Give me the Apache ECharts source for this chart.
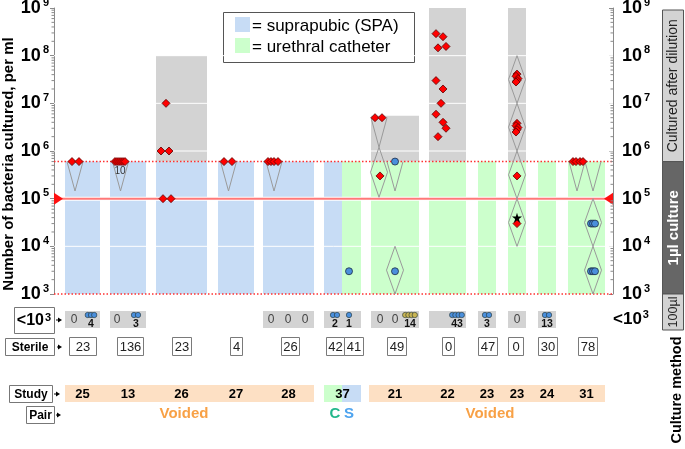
<!DOCTYPE html>
<html>
<head>
<meta charset="utf-8">
<script src="https://cdn.jsdelivr.net/npm/echarts@6/dist/echarts.min.js"></script>
<style>
html,body{margin:0;padding:0;background:#fff;}
#chart{width:685px;height:449px;}
</style>
</head>
<body>
<div id="chart"></div>
<script>
// ================= DATA =================
const studyLabels    = ['25','13','26','27','28','37','21','22','23','23','24','31'];
const sampleType     = ['SPA','SPA','SPA','SPA','SPA','SPA|UC','UC','UC','UC','UC','UC','UC'];
const dilutionTop    = [null,null,1e8,null,null,null,5.5e6,1e9,null,1e9,null,null];
const sterileCounts  = [[23],[136],[23],[4],[26],[42,41],[49],[0],[47],[0],[30],[78]];
const below1e3Counts = [[0,4],[0,3],[],[],[0,0,0],[2,1],[0,0,14],[43],[3],[0],[13],[]];
const studyGroup     = [0,0,0,0,0,1,2,2,2,2,2,2];
const pairLabels     = ['Voided','C','S','Voided'];
const legendLabels   = ['= suprapubic (SPA)','= urethral catheter'];
const cultureMethods = ['Cultured after dilution','1\u00b5l culture','100\u00b5l'];
const upperLimit = 6e5, lowerLimit = 1e3, threshold = 1e5, axisMax = 1e9;
const cluster13Count = 10;

const redValues = [6e5,6e5, 6e5,6e5,6e5,6e5,6e5,6e5, 1e7,1e6,1e6,1e5,1e5, 6e5,6e5, 6e5,6e5,6e5,6e5,
  5e6,5e6,3e5, 2.9e8,2.5e8,1.46e8,1.56e8,3e7,2e7,1e7,5.9e6,4e6,3e6,2e6,
  4.1e7,3.7e7,3.3e7,3.0e7,2.8e7, 3.8e6,3.4e6,3.1e6,2.8e6,2.5e6, 3e5,3e4, 6e5,6e5,6e5,6e5];
const blueValues = [3e3, 6e5,3e3, 3e4,3e4,3e4, 3e3,3e3,3e3];
const starValues = [4e4];
const vRanges   = [[6e5,1.45e5],[6e5,1.45e5],[6e5,1.45e5],[6e5,1.45e5],[5e6,1.2e6],[6e5,1.45e5],[6e5,1.45e5],[6e5,1.45e5]];
const diaRanges = [[1.2e6,1.07e5],[1e4,1e3],[1e8,1e7],[1e7,1e6],[1e6,1e5],[1e5,1e4],[1e5,1e4],[1e4,1e3]];

// ================= LAYOUT (x in axis units) =================
const colRange = [[11,46],[56,92],[102,153],[164,200],[209,260],[270,307],[317,365],[375,412],[424,442],[454,472],[484,502],[514,551]];
const colSplit = 288;
const redPos  = [18,25, 61,63,65,67,69,71, 112,107,115,109,117, 170,178, 214,217,220,224,
  321,328,326, 382,389,384,392,382,389,387,382,389,392,384,
  463,462,464,463,462, 463,462,464,463,462, 463,463, 519,522,526,529];
const bluePos = [295, 341,341, 537,539,541, 537,539,541];
const starPos = [463];
const vPos    = [21,66.5,174.5,220,325,341,523,539];
const diaPos  = [325,341,463,463,463,463,539,539];
const belowPos  = [[20,37],[63,82],[],[],[217,234,251],[281,295],[326,341,356],[403],[433],[463],[493],[]];
const belowDots = [[0,3],[0,2],[],[],[0,0,0],[2,1],[0,0,4],[4],[2],[0],[2],[]];
const belowOlive= [[0,0],[0,0],[],[],[0,0,0],[0,0],[0,0,1],[0],[0],[0],[0],[]];
const sterileBoxX = [[[15,42]],[[63,89]],[[118,137]],[[176,188]],[[227,245]],[[272,290],[290,309]],[[333,352]],[[388,400]],[[424,443]],[[454,469]],[[484,503]],[[524,543]]];
const pairPos = [130,281,295,436];

// ================= STYLE =================
const FONT = '"Liberation Sans", Arial, Helvetica, sans-serif';
const C_SPA = '#c7dcf5', C_UC = '#ccffcc', C_GRAY = '#d3d3d3', C_BAND = '#fde0c4';
const C_OUT = '#9a9a9a';
const pairColors = ['#f8a146','#22b78b','#4da3ef','#f8a146'];

function T(s, x, y, font, fill, align, valign, extra){
  return Object.assign({type:'text', style:{text:s, x:x, y:y, font:font+' '+FONT, fill:fill||'#000',
    align:align||'center', verticalAlign:valign||'middle'}}, extra||{});
}
function RT(s, x, y, font, fill){ // rotated text (bottom-to-top)
  return {type:'text', x:x, y:y, rotation:Math.PI/2, style:{text:s, x:0, y:0, font:font+' '+FONT, fill:fill||'#000', align:'center', verticalAlign:'middle'}};
}
function R(x,y,w,h,fill,stroke,lw){
  return {type:'rect', shape:{x:x,y:y,width:w,height:h}, style:{fill:fill||'none', stroke:stroke||null, lineWidth:lw||1}};
}
function sup(base, e, fs, fss){
  return {text:'{b|'+base+'}{s|'+e+'}', rich:{
    b:{font:'bold '+fs+'px '+FONT, fill:'#000', lineHeight:fs+2},
    s:{font:'bold '+fss+'px '+FONT, fill:'#000', verticalAlign:'top', lineHeight:fss+1, padding:[0,0,0,1]}}};
}
function arrow(x1,x2,y){
  return [{type:'line', shape:{x1:x1,y1:y,x2:x2-3,y2:y}, style:{stroke:'#000',lineWidth:1}},
          {type:'polygon', shape:{points:[[x2-4,y-2.5],[x2-4,y+2.5],[x2,y]]}, style:{fill:'#000'}}];
}

const chart = echarts.init(document.getElementById('chart'));

const axisRich = {
  b:{fontSize:18,fontWeight:'bold',fontFamily:FONT,color:'#000',lineHeight:22},
  s:{fontSize:11,fontWeight:'bold',fontFamily:FONT,color:'#000',verticalAlign:'top',lineHeight:14,padding:[0,0,0,2]}
};
function expFmt(v){ return '{b|10}{s|'+Math.round(Math.log10(v))+'}'; }
function yAx(pos){
  return {type:'log', logBase:10, min:lowerLimit, max:axisMax, position:pos,
    axisLine:{show:true, lineStyle:{color:'#8a8a8a', width:1}},
    axisTick:{show:true, length:4, inside:pos==='right', lineStyle:{color:'#8a8a8a'}},
    splitLine:{show:false}, minorTick:{show:false},
    axisLabel:{formatter:expFmt, rich:axisRich, margin: pos==='left'?5:9}};
}

// ---- column backgrounds ----
const barsSeries = {
  type:'custom', z:1, silent:true, clip:false,
  data: studyLabels.map((s,i)=>[(colRange[i][0]+colRange[i][1])/2, lowerLimit, i]),
  encode:{x:0,y:1},
  renderItem(params, api){
    const i = api.value(2);
    const ch = [];
    const a = api.coord([colRange[i][0], upperLimit]);
    const b = api.coord([colRange[i][1], lowerLimit]);
    if (sampleType[i]==='SPA|UC'){
      const m = api.coord([colSplit, lowerLimit])[0];
      ch.push(R(a[0], a[1], m-a[0], b[1]-a[1], C_SPA));
      ch.push(R(m, a[1], b[0]-m, b[1]-a[1], C_UC));
    } else {
      ch.push(R(a[0], a[1], b[0]-a[0], b[1]-a[1], sampleType[i]==='SPA'?C_SPA:C_UC));
    }
    if (dilutionTop[i]){
      const t = api.coord([colRange[i][0], dilutionTop[i]]);
      ch.push(R(t[0], t[1], b[0]-t[0], a[1]-t[1], C_GRAY));
    }
    return {type:'group', children:ch};
  }
};

// ---- overlay: grid lines, thresholds, ticks, culture method boxes ----
const overlaySeries = {
  type:'custom', z:2, silent:true, clip:false,
  data:[[0, lowerLimit]], encode:{x:0,y:1},
  renderItem(params, api){
    const cs = params.coordSys;
    const L = cs.x, Rr = cs.x + cs.width;
    const y = v => api.coord([0, v])[1];
    const ch = [];
    [1e4,1e6,1e7,1e8].forEach(v=>ch.push({type:'line', shape:{x1:L,y1:y(v),x2:Rr,y2:y(v)}, style:{stroke:'#fff',lineWidth:1}}));
    const yt = y(threshold);
    ch.push({type:'line', shape:{x1:L,y1:yt,x2:Rr,y2:yt}, style:{stroke:'#fff',lineWidth:4}});
    ch.push({type:'line', shape:{x1:L,y1:yt,x2:Rr,y2:yt}, style:{stroke:'#ff7878',lineWidth:2}});
    ch.push({type:'polygon', shape:{points:[[L,yt-6],[L,yt+6],[L+9,yt]]}, style:{fill:'#ff1010'}});
    ch.push({type:'polygon', shape:{points:[[Rr,yt-6],[Rr,yt+6],[Rr-9,yt]]}, style:{fill:'#ff1010'}});
    [upperLimit, lowerLimit].forEach(v=>ch.push({type:'line', shape:{x1:L,y1:y(v),x2:Rr,y2:y(v)}, style:{stroke:'#ff3030',lineWidth:1.5,lineDash:[1.5,2]}}));
    // minor ticks (log)
    for (let e=3; e<9; e++) for (let k=2; k<10; k++){
      const yy = y(k*Math.pow(10,e));
      ch.push({type:'line', shape:{x1:L-2.5,y1:yy,x2:L,y2:yy}, style:{stroke:'#8a8a8a',lineWidth:1}});
      ch.push({type:'line', shape:{x1:Rr-2.5,y1:yy,x2:Rr,y2:yy}, style:{stroke:'#8a8a8a',lineWidth:1}});
    }
    // count label for clustered points in study 13
    const c13 = api.coord([66, upperLimit]);
    ch.push(T(String(cluster13Count), c13[0], c13[1]+10, '10px', '#333'));
    // right "<10^3" label
    const base = y(lowerLimit);
    const s1 = sup('<10', '3', 17, 11);
    ch.push({type:'text', style:Object.assign({x:Rr, y:base+25, align:'left', verticalAlign:'middle'}, s1)});
    // culture method boxes
    const bx = Rr+49, bw = 21;
    const ytop = y(axisMax)+2, yu = y(upperLimit), yl = base, yb = base+36;
    ch.push(R(bx+0.5, ytop, bw, yu-ytop, C_GRAY, '#555', 1));
    ch.push(R(bx+0.5, yu, bw, yl-yu, '#666666', '#555', 1));
    ch.push(R(bx+0.5, yl, bw, yb-yl, C_GRAY, '#555', 1));
    ch.push(RT(cultureMethods[0], bx+bw/2+1, (ytop+yu)/2, '14px', '#222'));
    ch.push(RT(cultureMethods[1], bx+bw/2+1, (yu+yl)/2, 'bold 15px', '#fff'));
    ch.push(RT(cultureMethods[2], bx+bw/2+1, (yl+yb)/2, '12.5px', '#222'));
    // pair row labels
    pairLabels.forEach((s,k)=>{
      const px = api.coord([pairPos[k], lowerLimit])[0];
      ch.push(T(s, px, base+120, 'bold 15px', pairColors[k]));
    });
    return {type:'group', children:ch};
  }
};

// ---- interval outlines ----
const vSeries = {
  type:'custom', z:3, silent:true, clip:false,
  data: vRanges.map((r,k)=>[vPos[k], r[0], r[1]]), encode:{x:0,y:[1,2]},
  renderItem(params, api){
    const t = api.coord([api.value(0), api.value(1)]);
    const b = api.coord([api.value(0), api.value(2)]);
    return {type:'polyline', shape:{points:[[t[0]-8,t[1]],[b[0],b[1]],[t[0]+8,t[1]]]}, style:{stroke:C_OUT,lineWidth:1,fill:null}};
  }
};
const diaSeries = {
  type:'custom', z:3, silent:true, clip:false,
  data: diaRanges.map((r,k)=>[diaPos[k], r[0], r[1]]), encode:{x:0,y:[1,2]},
  renderItem(params, api){
    const t = api.coord([api.value(0), api.value(1)]);
    const b = api.coord([api.value(0), api.value(2)]);
    const m = (t[1]+b[1])/2;
    return {type:'polygon', shape:{points:[[t[0],t[1]],[t[0]+8.5,m],[b[0],b[1]],[t[0]-8.5,m]]}, style:{stroke:C_OUT,lineWidth:1,fill:null}};
  }
};

// ---- rows below the plot ----
const rowsSeries = {
  type:'custom', z:2, silent:true, clip:false,
  data: studyLabels.map((s,i)=>[(colRange[i][0]+colRange[i][1])/2, lowerLimit, i]),
  encode:{x:0,y:1},
  renderItem(params, api){
    const i = api.value(2);
    const base = api.coord([0, lowerLimit])[1];
    const px = u => api.coord([u, lowerLimit])[0];
    const xa = px(colRange[i][0]), xb = px(colRange[i][1]);
    const ch = [];
    // <10^3 row
    const cnts = below1e3Counts[i];
    if (cnts.length){
      ch.push(R(xa, base+17, xb-xa, 17, C_GRAY));
      cnts.forEach((n,k)=>{
        const cx = px(belowPos[i][k]);
        const nd = belowDots[i][k];
        if (!nd) ch.push(T(String(n), cx, base+25.5, '12px', '#444'));
        else {
          const col = belowOlive[i][k] ? '#c9b553' : '#4a8fdc';
          const sp = nd>2 ? 3.2 : 4;
          for (let d=0; d<nd; d++){
            const dx = (d-(nd-1)/2)*sp;
            ch.push({type:'circle', shape:{cx:cx+dx, cy:base+21, r:2.7}, style:{fill:col, stroke:'#233', lineWidth:0.6}});
          }
          ch.push(T(String(n), cx, base+30.5, 'bold 10.5px', '#111'));
        }
      });
    }
    // sterile row
    sterileCounts[i].forEach((n,k)=>{
      const a = Math.round(px(sterileBoxX[i][k][0]))+0.5, b = Math.round(px(sterileBoxX[i][k][1]))+0.5;
      ch.push(R(a, base+43.5, b-a, 18, '#fff', '#7a7a7a', 1));
      ch.push(T(String(n), (a+b)/2, base+53, '13px', '#222'));
    });
    // study band
    let bEnd = xb, bStart = xa;
    if (i+1<studyLabels.length && studyGroup[i+1]===studyGroup[i]) bEnd = px(colRange[i+1][0]);
    if (i>0 && studyGroup[i-1]!==studyGroup[i] && studyGroup[i]===2) bStart = xa-2;
    if (sampleType[i]==='SPA|UC'){
      const m = px(colSplit);
      ch.push(R(bStart, base+91, m-bStart, 17, C_UC));
      ch.push(R(m, base+91, bEnd-m, 17, C_SPA));
    } else {
      ch.push(R(bStart, base+91, bEnd-bStart, 17, C_BAND));
    }
    ch.push(T(studyLabels[i], (xa+xb)/2, base+100, 'bold 13px', '#000'));
    return {type:'group', children:ch};
  }
};

const starPath = 'path://M50,0 L61,35 L98,35 L68,57 L79,91 L50,70 L21,91 L32,57 L2,35 L39,35 Z';

// ---- fixed graphics ----
const lab103 = sup('<10','3',16,11);
const graphicEls = [
  // legend
  R(223.5, 12.5, 191, 50, '#fff', '#555', 1),
  R(235, 17, 15, 15, C_SPA), R(235, 38, 15, 15, C_UC),
  T(legendLabels[0], 252, 26, '17px', '#000', 'left'),
  T(legendLabels[1], 252, 47, '17px', '#000', 'left'),
  // y title
  RT('Number of bacteria cultured, per ml', 9, 164, 'bold 15px', '#000'),
  RT('Culture method', 677, 390, 'bold 14.5px', '#000'),
  // row labels
  R(14.5, 307.5, 40, 26, '#fff', '#777', 1),
  {type:'text', style:Object.assign({x:34, y:321, align:'center', verticalAlign:'middle'}, lab103)},
  R(5.5, 338.5, 49, 17, '#fff', '#777', 1),
  T('Sterile', 30, 347.5, 'bold 12px', '#000'),
  R(9.5, 385.5, 43, 17, '#fff', '#777', 1),
  T('Study', 31, 395, 'bold 12px', '#000'),
  R(26.5, 406.5, 28, 17, '#fff', '#777', 1),
  T('Pair', 40.5, 415.5, 'bold 12px', '#000')
].concat(arrow(56,62,320), arrow(57,62,347), arrow(54,60,394), arrow(56,61,415));

const option = {
  animation:false,
  backgroundColor:'#fff',
  grid:{left:54, right:72, top:8, bottom:155, containLabel:false, outerBoundsMode:'none'},
  xAxis:{type:'value', min:0, max:559, show:false},
  yAxis:[yAx('left'), yAx('right')],
  series:[
    barsSeries, overlaySeries, vSeries, diaSeries, rowsSeries,
    {type:'scatter', z:4, silent:true, symbol:'diamond', symbolSize:[8,8],
     itemStyle:{color:'#ff0000', borderColor:'#5a0000', borderWidth:0.8, opacity:1},
     data: redValues.map((v,k)=>[redPos[k], v])},
    {type:'scatter', z:4, silent:true, symbol:'circle', symbolSize:7,
     itemStyle:{color:'#4a8fdc', borderColor:'#1c2b44', borderWidth:0.8, opacity:1},
     data: blueValues.map((v,k)=>[bluePos[k], v])},
    {type:'scatter', z:5, silent:true, symbol:starPath, symbolSize:10,
     itemStyle:{color:'#000', opacity:1},
     data: starValues.map((v,k)=>[starPos[k], v])}
  ],
  graphic:{elements:graphicEls}
};
chart.setOption(option);
</script>
</body>
</html>
